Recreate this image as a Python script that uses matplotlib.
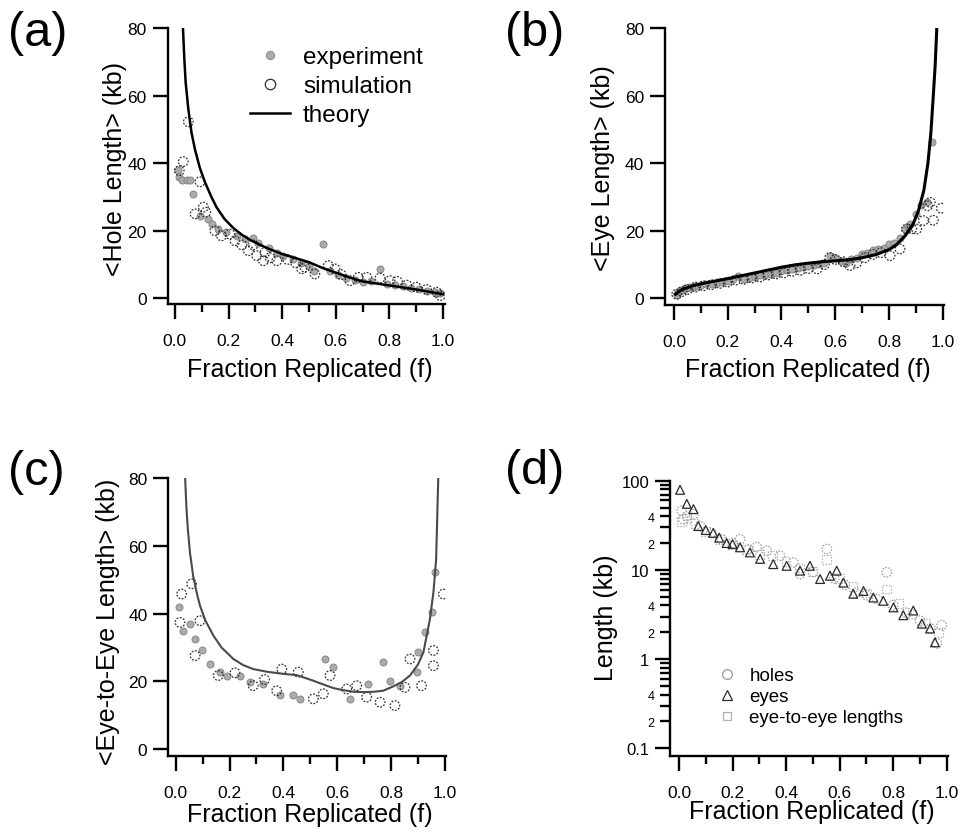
import matplotlib

matplotlib.use("Agg")

import matplotlib.pyplot as plt
from matplotlib.lines import Line2D
from matplotlib.ticker import FixedLocator, FixedFormatter, FormatStrFormatter, NullLocator

plt.rcParams["font.family"] = ["Liberation Sans", "DejaVu Sans"]

# ---- data ------------------------------------------------------------------
# (a) hole length
a_theory_f = [0.030, 0.035, 0.040, 0.050, 0.062, 0.075, 0.093, 0.112, 0.135, 0.155, 0.185,
              0.218, 0.25, 0.28, 0.34, 0.40, 0.45, 0.50, 0.55, 0.60, 0.65, 0.70, 0.75,
              0.80, 0.85, 0.90, 0.95, 1.00]
a_theory_v = [80, 71, 64, 56, 49, 44, 38.6, 34.4, 30.2, 27.0, 23.5, 20.8, 18.8, 17.3, 15, 13.1,
              11.9, 10.7, 9.0, 7.6, 6.2, 5.0, 4.4, 3.8, 3.2, 2.6, 1.9, 1.2]
a_exp_f = [0.01, 0.015, 0.025, 0.045, 0.055, 0.068, 0.093, 0.124, 0.137, 0.16, 0.19, 0.23,
           0.26, 0.29, 0.31, 0.35, 0.38, 0.405, 0.44, 0.47, 0.50, 0.52, 0.553, 0.58, 0.61,
           0.64, 0.67, 0.70, 0.73, 0.765, 0.79, 0.82, 0.85, 0.88, 0.91, 0.94, 0.97, 0.99]
a_exp_v = [38, 36, 35, 35, 35, 31, 24.5, 23.5, 22, 20.5, 19.5, 18.5, 17.5, 18, 16.5, 15, 13.5,
           12.6, 11.5, 10.5, 9.5, 8, 16.1, 8, 7, 6, 5.5, 4.8, 5, 8.7, 4.2, 4, 3.5, 3, 2.8,
           2.2, 1.8, 1.5]
a_sim_f = [0.016, 0.031, 0.05, 0.075, 0.093, 0.106, 0.115, 0.149, 0.174, 0.205, 0.224, 0.25,
           0.274, 0.292, 0.305, 0.33, 0.336, 0.355, 0.38, 0.42, 0.45, 0.473, 0.485, 0.522,
           0.572, 0.597, 0.62, 0.653, 0.684, 0.716, 0.765, 0.802, 0.83, 0.865, 0.90, 0.939,
           0.976, 0.99]
a_sim_v = [37.8, 40.5, 52.3, 25, 34.5, 27, 25.5, 20, 18.5, 19, 17, 15.8, 14.1, 15.8, 12.6,
           11.1, 13.6, 12, 11.1, 11.5, 10.5, 8.7, 9.2, 7.2, 9.7, 8.7, 7, 5.2, 6.2, 6.2, 6.0,
           5.2, 5.0, 3.9, 3.3, 2.6, 1.8, 0.8]

# (b) eye length
b_theory_f = [0.005, 0.03, 0.07, 0.12, 0.20, 0.30, 0.40, 0.45, 0.50, 0.55, 0.60, 0.65, 0.70,
              0.75, 0.80, 0.83, 0.86, 0.89, 0.91, 0.93, 0.945, 0.956, 0.965, 0.972, 0.978]
b_theory_v = [1.2, 2.6, 3.7, 4.6, 5.8, 7.5, 9.2, 9.9, 10.4, 10.8, 11.1, 11.4, 12.0, 12.9, 14.4,
              16, 18.5, 22, 26, 32, 40, 49, 60, 69, 80]
b_exp_f = [0.01, 0.015, 0.02, 0.03, 0.04, 0.05, 0.06, 0.07, 0.08, 0.09, 0.10, 0.12, 0.14, 0.16,
           0.18, 0.20, 0.22, 0.24, 0.26, 0.28, 0.30, 0.32, 0.34, 0.36, 0.38, 0.40, 0.42, 0.44,
           0.46, 0.48, 0.50, 0.52, 0.54, 0.56, 0.58, 0.60, 0.62, 0.64, 0.66, 0.68, 0.70, 0.72,
           0.74, 0.76, 0.78, 0.80, 0.82, 0.84, 0.86, 0.87, 0.88, 0.90, 0.92, 0.94, 0.959]
b_exp_v = [1.0, 1.8, 2.2, 2.5, 2.9, 3.0, 3.3, 3.4, 3.6, 3.5, 3.9, 4.1, 4.3, 4.6, 4.8, 5.0, 5.6,
           6.6, 5.8, 6.0, 6.3, 6.8, 7.0, 7.3, 7.6, 8.0, 8.3, 8.8, 9.0, 9.2, 9.5, 10.0, 10.2,
           10.5, 12.5, 12.0, 11.0, 10.5, 11.5, 12.0, 13.0, 13.5, 14.2, 14.6, 15.0, 16.0, 16.5,
           18.0, 20.5, 21.5, 22.0, 25.0, 27.5, 28.5, 46.2]
b_sim_f = [0.01, 0.03, 0.05, 0.08, 0.11, 0.14, 0.17, 0.20, 0.23, 0.26, 0.29, 0.32, 0.35, 0.38,
           0.41, 0.44, 0.47, 0.50, 0.533, 0.56, 0.58, 0.60, 0.63, 0.655, 0.68, 0.71, 0.74,
           0.77, 0.804, 0.841, 0.865, 0.885, 0.903, 0.928, 0.944, 0.954, 0.965, 0.995]
b_sim_v = [1.2, 2.0, 2.6, 3.3, 3.7, 4.0, 4.4, 4.8, 5.4, 5.6, 6.0, 6.3, 6.9, 7.2, 7.5, 8.0, 8.3,
           8.8, 8.7, 10.0, 12.1, 11.5, 10.8, 9.7, 10.5, 12.0, 13.0, 13.5, 12.6, 14.6, 20.5,
           20.6, 20.5, 23.0, 27.4, 28.4, 23.1, 26.7]

# (c) eye-to-eye length
c_theory_f = [0.035, 0.040, 0.045, 0.053, 0.065, 0.08, 0.09, 0.11, 0.14, 0.17, 0.214, 0.25,
              0.288, 0.34, 0.40, 0.45, 0.51, 0.55, 0.585, 0.62, 0.66, 0.70, 0.734, 0.77,
              0.808, 0.84, 0.87, 0.90, 0.92, 0.932, 0.944, 0.957, 0.967, 0.975]
c_theory_v = [80, 71, 65, 58, 51, 45.5, 42.4, 38, 33.5, 30, 26.6, 24.8, 23.6, 22.8, 22.2, 21.8,
              20.2, 19.0, 18.0, 17.4, 16.9, 16.8, 16.9, 17.2, 18.5, 19.8, 21.7, 25, 28.6, 33.5,
              38.4, 46.3, 56, 80]
c_exp_f = [0.012, 0.026, 0.053, 0.072, 0.097, 0.127, 0.165, 0.189, 0.239, 0.276, 0.325, 0.387,
           0.437, 0.462, 0.554, 0.585, 0.647, 0.715, 0.771, 0.796, 0.833, 0.895, 0.901, 0.926,
           0.95, 0.963]
c_exp_v = [41.9, 35, 36.9, 32.5, 29.1, 25.1, 22.7, 21.7, 21.7, 19.7, 19.2, 15.8, 15.8, 14.8,
           26.6, 24.1, 14.8, 19.2, 25.6, 20.2, 18.7, 22.7, 28.6, 34.5, 40.4, 52.2]
c_sim_f = [0.016, 0.022, 0.059, 0.072, 0.09, 0.158, 0.22, 0.288, 0.33, 0.375, 0.394, 0.455,
           0.511, 0.548, 0.573, 0.635, 0.672, 0.709, 0.759, 0.814, 0.851, 0.87, 0.913, 0.957,
           0.957, 0.994]
c_sim_v = [37.4, 45.8, 48.8, 27.6, 37.9, 21.7, 22.5, 18.7, 20.5, 17.2, 23.6, 22.7, 14.8, 16.3,
           21.7, 17.7, 18.7, 15.3, 13.8, 12.8, 18.2, 26.6, 18.7, 24.6, 29.1, 45.8]

# (d) all lengths, log scale
d_hole_f = [0.01, 0.016, 0.03, 0.054, 0.078, 0.12, 0.16, 0.20, 0.228, 0.26, 0.29, 0.328, 0.377,
            0.427, 0.452, 0.50, 0.552, 0.58, 0.62, 0.66, 0.70, 0.74, 0.776, 0.80, 0.85, 0.90,
            0.94, 0.963, 0.981]
d_hole_v = [46, 37, 40, 42, 31, 26, 22, 20, 22, 17, 18, 16.4, 14.4, 12.1, 9, 9.5, 17.1, 8, 6.8,
            5.5, 5.2, 4.7, 9.4, 4, 3.3, 2.7, 2.2, 1.5, 2.4]
d_eye_f = [0.004, 0.029, 0.054, 0.072, 0.10, 0.128, 0.15, 0.178, 0.20, 0.228, 0.265, 0.303,
           0.352, 0.402, 0.452, 0.489, 0.527, 0.564, 0.589, 0.614, 0.651, 0.689, 0.726, 0.763,
           0.801, 0.838, 0.875, 0.907, 0.938, 0.956]
d_eye_v = [79, 55, 48, 31, 28, 26, 23, 20, 19.5, 17.9, 15.7, 13.3, 11.6, 11.1, 9.8, 11.1, 7.9,
           8.6, 9.8, 7.2, 5.4, 5.8, 4.9, 4.5, 3.8, 3.1, 3.5, 2.5, 2.2, 1.54]
d_e2e_f = [0.01, 0.03, 0.06, 0.10, 0.15, 0.20, 0.25, 0.30, 0.35, 0.40, 0.45, 0.50, 0.552, 0.60,
           0.65, 0.70, 0.776, 0.82, 0.87, 0.92, 0.97]
d_e2e_v = [35, 38, 33, 27, 22, 19, 17, 15, 14.5, 12.5, 10.5, 9.5, 13.2, 8, 6.5, 5.5, 6.1, 4.2,
           3.2, 2.5, 2.0]

x_ticks = [0.0, 0.2, 0.4, 0.6, 0.8, 1.0]
x_minor = [0.1, 0.3, 0.5, 0.7, 0.9]
y_ticks = [0, 20, 40, 60, 80]
log_major = [0.1, 1, 10, 100]
log_minor = [0.2, 0.3, 0.4, 0.5, 0.6, 0.7, 0.8, 0.9, 2, 3, 4, 5, 6, 7, 8, 9,
             20, 30, 40, 50, 60, 70, 80, 90]
log_minor_labels = ["2", "", "4", "", "", "", "", "", "2", "", "4", "", "", "", "", "",
                    "2", "", "4", "", "", "", "", ""]

# ---- layout (pixel boxes) ---------------------------------------------------
W, H = 964, 837
fig = plt.figure(figsize=(W / 100, H / 100), dpi=100)


def add_box(x0, y0, x1, y1):
    return fig.add_axes([x0 / W, 1 - y1 / H, (x1 - x0) / W, (y1 - y0) / H])


def style(ax):
    for s in ("top", "right"):
        ax.spines[s].set_visible(False)
    for s in ("left", "bottom"):
        ax.spines[s].set_linewidth(1.7)
    ax.tick_params(which="major", direction="out", length=11, width=1.7, labelsize=12.5)
    ax.tick_params(which="minor", direction="out", length=6, width=1.7)
    ax.tick_params(axis="x", which="both", pad=10)
    ax.tick_params(axis="y", which="both", pad=4)
    ax.xaxis.set_major_locator(FixedLocator(x_ticks))
    ax.xaxis.set_minor_locator(FixedLocator(x_minor))
    ax.xaxis.set_major_formatter(FormatStrFormatter("%.1f"))
    ax.patch.set_alpha(0)


def lin_panel(ax, ylo):
    style(ax)
    ax.set_ylim(ylo, 80)
    ax.yaxis.set_major_locator(FixedLocator(y_ticks))
    ax.yaxis.set_minor_locator(NullLocator())


EXP = dict(s=26, c="#ababab", edgecolors="#808080", linewidths=0.6, zorder=2)
SIM = dict(s=48, facecolors="none", edgecolors="#303030", linewidths=0.9,
           linestyles=(0, (1.5, 1.2)), zorder=2)

# (a)
ax = add_box(167.7, 29.3, 445, 305)
lin_panel(ax, -1.7)
ax.set_xlim(-0.027, 1.0075)
ax.scatter(a_exp_f, a_exp_v, **EXP)
ax.scatter(a_sim_f, a_sim_v, **SIM)
ax.plot(a_theory_f, a_theory_v, color="black", lw=1.8, zorder=3)
handles = [Line2D([], [], ls="none", marker="o", ms=6, mfc="#ababab", mec="#808080", mew=0.6),
           Line2D([], [], ls="none", marker="o", ms=7.5, mfc="none", mec="#303030", mew=0.9),
           Line2D([], [], color="black", lw=1.8)]
ax.legend(handles, ["experiment", "simulation", "theory"], loc="upper left",
          bbox_to_anchor=(250 / W, 1 - 47 / H), bbox_transform=fig.transFigure,
          frameon=False, fontsize=17.5, handlelength=1.65, handletextpad=0.53,
          labelspacing=0.29, borderpad=0, borderaxespad=0)

# (b)
ax = add_box(665, 29.3, 943.5, 306)
lin_panel(ax, -2.0)
ax.set_xlim(-0.0335, 1.003)
ax.scatter(b_exp_f, b_exp_v, **EXP)
ax.scatter(b_sim_f, b_sim_v, **SIM)
ax.plot(b_theory_f, b_theory_v, color="black", lw=2.2, zorder=3)

# (c)
ax = add_box(168.3, 479.3, 446, 756.7)
lin_panel(ax, -2.0)
ax.set_xlim(-0.0275, 1.0037)
ax.scatter(c_exp_f, c_exp_v, **EXP)
ax.scatter(c_sim_f, c_sim_v, **SIM)
ax.plot(c_theory_f, c_theory_v, color="#4a4a4a", lw=1.5, zorder=3)

# (d)
ax = add_box(670, 481.7, 948.3, 757.3)
style(ax)
ax.set_yscale("log")
ax.set_ylim(0.0813, 100)
ax.set_xlim(-0.0336, 1.0059)
ax.yaxis.set_major_locator(FixedLocator(log_major))
ax.yaxis.set_major_formatter(FixedFormatter(["0.1", "1", "10", "100"]))
ax.yaxis.set_minor_locator(FixedLocator(log_minor))
ax.yaxis.set_minor_formatter(FixedFormatter(log_minor_labels))
ax.tick_params(axis="y", which="major", labelsize=12)
ax.tick_params(axis="y", which="minor", labelsize=9, length=7)
ax.scatter(d_hole_f, d_hole_v, s=48, facecolors="none", edgecolors="#9a9a9a", linewidths=0.9,
           linestyles=(0, (1.2, 1.2)), zorder=2)
ax.scatter(d_e2e_f, d_e2e_v, s=40, marker="s", facecolors="none", edgecolors="#b0b0b0",
           linewidths=0.9, linestyles=(0, (1.2, 1.2)), zorder=2)
ax.scatter(d_eye_f, d_eye_v, s=40, marker="^", facecolors="none", edgecolors="#2a2a2a",
           linewidths=0.9, zorder=3)
handles = [Line2D([], [], ls="none", marker="o", ms=7, mfc="none", mec="#9a9a9a", mew=0.9),
           Line2D([], [], ls="none", marker="^", ms=6.5, mfc="none", mec="#2a2a2a", mew=0.9),
           Line2D([], [], ls="none", marker="s", ms=6, mfc="none", mec="#b0b0b0", mew=0.9)]
ax.legend(handles, ["holes", "eyes", "eye-to-eye lengths"], loc="upper left",
          bbox_to_anchor=(718 / W, 1 - 668 / H), bbox_transform=fig.transFigure,
          frameon=False, fontsize=13.5, handlelength=1.0, handletextpad=0.67,
          labelspacing=0.21, borderpad=0, borderaxespad=0)

# ---- axis labels and panel letters -----------------------------------------
LAB = dict(fontsize=18, ha="center", va="center")
for x, y in [(310, 370), (808, 370), (310, 815), (812, 812)]:
    fig.text(x / W, 1 - y / H, "Fraction Replicated (f)", **LAB)
for (x, y), txt in zip([(115, 169), (603, 168), (108, 622), (606, 618)],
                       ["<Hole Length> (kb)", "<Eye Length> (kb)",
                        "<Eye-to-Eye Length> (kb)", "Length (kb)"]):
    fig.text(x / W, 1 - y / H, txt, rotation=90, **LAB)
for (x, y), txt in zip([(8, 33), (505, 33), (8, 473), (505, 472)], ["(a)", "(b)", "(c)", "(d)"]):
    fig.text(x / W, 1 - y / H, txt, fontsize=35, ha="left", va="center")

fig.savefig("out.png", dpi=100)
